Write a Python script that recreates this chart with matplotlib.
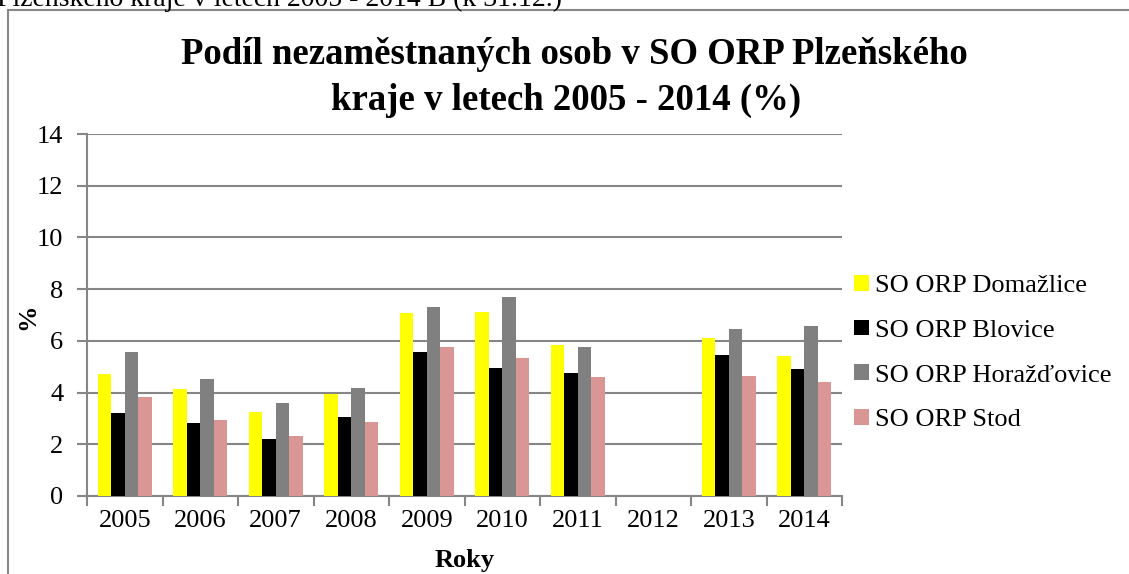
import matplotlib.pyplot as plt
import numpy as np
from matplotlib.lines import Line2D
from matplotlib.patches import Patch

years = ["2005", "2006", "2007", "2008", "2009", "2010", "2011", "2012", "2013", "2014"]
# 2012 has no data in the source chart
domazlice = [4.71, 4.12, 3.23, 3.95, 7.06, 7.11, 5.83, np.nan, 6.11, 5.42]
blovice = [3.21, 2.83, 2.22, 3.07, 5.55, 4.95, 4.74, np.nan, 5.47, 4.90]
horazdovice = [5.57, 4.54, 3.58, 4.17, 7.30, 7.70, 5.77, np.nan, 6.46, 6.57]
stod = [3.82, 2.93, 2.31, 2.85, 5.75, 5.33, 4.59, np.nan, 4.66, 4.39]
series_names = ["SO ORP Domažlice", "SO ORP Blovice", "SO ORP Horažďovice", "SO ORP Stod"]
colors = ["#FFFF00", "#000000", "#808080", "#D99694"]

plt.rcParams['font.family'] = ['Liberation Serif', 'DejaVu Serif']

W, H = 1129, 574
fig = plt.figure(figsize=(W / 100, H / 100), dpi=100)
ax = fig.add_axes([87 / W, 1 - 496 / H, (842 - 87) / W, (496 - 134) / H])

grid_c = "#868686"
x = np.arange(len(years))
bw = 0.18
all_series = [domazlice, blovice, horazdovice, stod]
for k in range(4):
    ax.bar(x + (k - 1.5) * bw, all_series[k], bw, color=colors[k], zorder=3)

ax.set_xlim(-0.5, len(years) - 0.5)
ax.set_ylim(0, 14)
ax.set_yticks(range(0, 15, 2))
ax.yaxis.grid(True, color=grid_c, linewidth=1.5, zorder=0)
ax.set_xticks(x)
ax.set_xticklabels(years, fontsize=19)
ax.set_xticks(np.arange(-0.5, len(years)), minor=True)
ax.tick_params(axis='x', which='major', length=0, pad=10)
ax.tick_params(axis='x', which='minor', length=7, width=1.5, color=grid_c)
ax.tick_params(axis='y', length=7, width=1.5, color=grid_c, labelsize=19, pad=10)
for s in ["top", "right"]:
    ax.spines[s].set_visible(False)
for s in ["left", "bottom"]:
    ax.spines[s].set_color(grid_c)
    ax.spines[s].set_linewidth(1.5)

fig.text(28 / W, 1 - 317 / H, "%", rotation=90, fontsize=19, fontweight="bold",
         ha="center", va="center")
fig.text(465 / W, 1 - 561 / H, "Roky", fontsize=19, fontweight="bold",
         ha="center", va="center")

fig.text(574 / W, 1 - 55 / H, "Podíl nezaměstnaných osob v SO ORP Plzeňského",
         fontsize=26.5, fontweight="bold", ha="center", va="center")
fig.text(566 / W, 1 - 100 / H, "kraje v letech 2005 - 2014 (%)",
         fontsize=26.5, fontweight="bold", ha="center", va="center")

# cut-off caption above the chart frame
fig.text(-3 / W, 1 + 1 / H, "Plzeňského kraje v letech 2005 - 2014 B (k 31.12.)",
         fontsize=20, ha="left", va="center")

# chart frame (left and top edges visible)
fig.add_artist(Line2D([8 / W, 8 / W], [0, 1 - 10 / H], transform=fig.transFigure,
                      color="#888888", linewidth=1.5))
fig.add_artist(Line2D([8 / W, 1], [1 - 10 / H, 1 - 10 / H], transform=fig.transFigure,
                      color="#888888", linewidth=1.5))

handles = [Patch(facecolor=c) for c in colors]
fig.legend(handles, series_names, loc="center left", bbox_to_anchor=(854 / W, 1 - 353 / H),
           frameon=False, fontsize=19, handlelength=0.55, handleheight=0.55,
           handletextpad=0.25, labelspacing=0.85, borderaxespad=0, borderpad=0)

fig.savefig("out.png", dpi=100)
